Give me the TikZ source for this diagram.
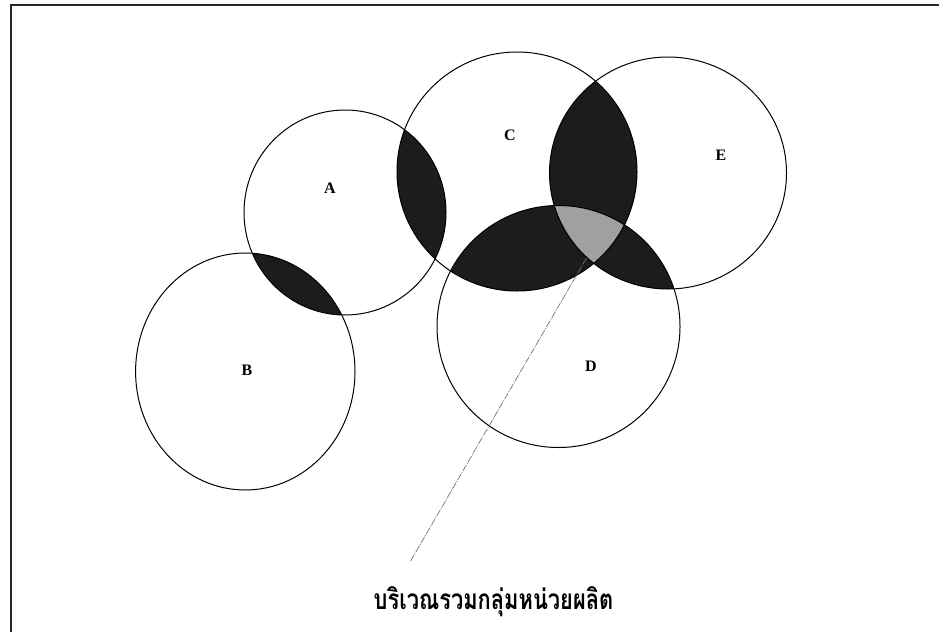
\documentclass[tikz,border=0pt]{standalone}
\usepackage{fontspec}
\setmainfont{Liberation Serif}
\newfontfamily\thaifont[Script=Thai]{Loma}
\definecolor{darkfill}{HTML}{1C1C1C}
\definecolor{triplefill}{HTML}{A0A0A0}
\begin{document}
\begin{tikzpicture}[x=1pt,y=-1pt,
  ring/.style={draw=black,line width=1.0pt},
  lbl/.style={font=\fontsize{16}{16}\selectfont\bfseries,inner sep=0pt},
  leader/.style={draw=black!55,line width=0.7pt,dash pattern=on 7pt off 1.2pt on 1pt off 1.2pt}]
\useasboundingbox (0,0) rectangle (939,632);
\fill[white] (0,0) rectangle (939,632);
% frame (top and left edges visible)
\coordinate (fTL) at (11,5);
\coordinate (fTR) at (939,5);
\coordinate (fBL) at (11,632);
\draw[line width=1.3pt,black!85] (fTR) -- (fTL) -- (fBL);
% circle centres
\coordinate (cA) at (345,212.5);
\coordinate (cB) at (245.3,371.5);
\coordinate (cC) at (517,171.5);
\coordinate (cD) at (558.5,326.5);
\coordinate (cE) at (668,173);
\def\shA{(cA) ellipse [x radius=101, y radius=102.5]}
\def\shB{(cB) ellipse [x radius=109.7, y radius=118.5]}
\def\shC{(cC) ellipse [x radius=120, y radius=119.5]}
\def\shD{(cD) ellipse [x radius=121.5, y radius=121]}
\def\shE{(cE) ellipse [x radius=118.5, y radius=116]}
% dark pairwise overlaps
\begin{scope}\clip \shA; \fill[darkfill] \shB; \end{scope}
\begin{scope}\clip \shA; \fill[darkfill] \shC; \end{scope}
\begin{scope}\clip \shC; \fill[darkfill] \shE; \end{scope}
\begin{scope}\clip \shC; \fill[darkfill] \shD; \end{scope}
\begin{scope}\clip \shD; \fill[darkfill] \shE; \end{scope}
% triple overlap C, D, E
\begin{scope}\clip \shC; \clip \shD; \fill[triplefill] \shE; \end{scope}
% outlines
\draw[ring] \shA; \draw[ring] \shB; \draw[ring] \shC; \draw[ring] \shD; \draw[ring] \shE;
% labels
\node[lbl] (A) at (330,188) {A};
\node[lbl] (B) at (247,370) {B};
\node[lbl] (C) at (510,135) {C};
\node[lbl] (D) at (591,366) {D};
\node[lbl] (E) at (721,155) {E};
% caption and leader line
\coordinate (lt) at (586.5,258);
\coordinate (lb) at (410,562);
\draw[leader] (lt) -- (lb);
\node[anchor=base,inner sep=0pt] (cap) at (493.5,609)
  {\scalebox{0.78}[1]{\thaifont\bfseries\fontsize{28}{28}\selectfont บริเวณรวมกลุ่มหน่วยผลิต}};
\end{tikzpicture}
\end{document}
